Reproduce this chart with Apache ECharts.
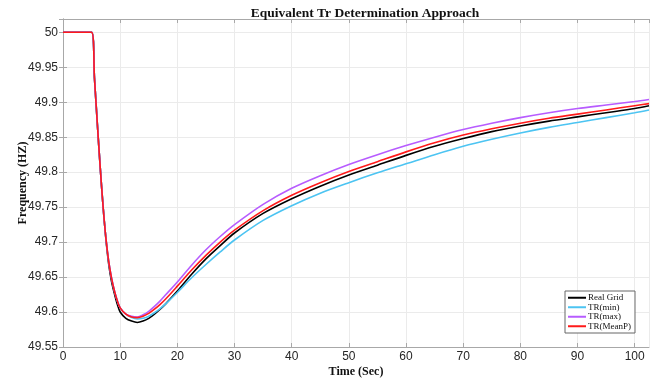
<!DOCTYPE html>
<html>

<head>
    <meta http-equiv="Content-Type" content="text/html; charset=utf-8" />
    <title>Equivalent Tr Determination Approach</title>
    <style type="text/css">
        * {
            margin: 0;
            padding: 0;
        }

        html,
        body {
            width: 100%;
            height: 100%;
            background: #fff;
        }
    </style>
</head>

<body>
    <div id="main" style="width: 657px;height:380px;"></div>
    <script type="text/javascript" src="https://cdn.jsdelivr.net/npm/echarts@6/dist/echarts.min.js"></script>
    <script type="text/javascript">
        // time (sec)
        const times = [0, 5, 5.5, 6, 6.5, 7, 7.5, 8, 8.5, 9, 9.5, 10, 11, 12, 13, 14, 15, 16, 17, 18,
            20, 22.5, 25, 27.5, 30, 35, 40, 45, 50, 55, 60, 65, 70, 75, 80, 85, 90, 95, 100, 102.5];

        // frequency (Hz)
        const realGrid = [50, 50, 49.935, 49.870, 49.808, 49.752, 49.705, 49.668, 49.643, 49.626, 49.611, 49.600, 49.591, 49.587, 49.585, 49.587, 49.591, 49.597, 49.604, 49.612,
            49.630, 49.654, 49.676, 49.695, 49.713, 49.741, 49.762, 49.780, 49.796, 49.810, 49.824, 49.837, 49.848, 49.858, 49.866, 49.873, 49.879, 49.885, 49.891, 49.895];
        const trMin = [50, 50, 49.935, 49.870, 49.808, 49.752, 49.706, 49.672, 49.648, 49.630, 49.616, 49.606, 49.597, 49.592, 49.590, 49.591, 49.594, 49.599, 49.605, 49.612,
            49.628, 49.649, 49.668, 49.686, 49.703, 49.731, 49.752, 49.770, 49.785, 49.799, 49.812, 49.825, 49.837, 49.847, 49.856, 49.864, 49.871, 49.878, 49.885, 49.889];
        const trMax = [50, 50, 49.935, 49.870, 49.808, 49.752, 49.706, 49.672, 49.648, 49.630, 49.616, 49.606, 49.597, 49.594, 49.593, 49.596, 49.601, 49.608, 49.616, 49.625,
            49.643, 49.667, 49.689, 49.708, 49.725, 49.754, 49.777, 49.795, 49.811, 49.825, 49.838, 49.850, 49.861, 49.870, 49.878, 49.885, 49.891, 49.896, 49.901, 49.904];
        const trMeanP = [50, 50, 49.935, 49.870, 49.808, 49.752, 49.706, 49.672, 49.648, 49.630, 49.616, 49.606, 49.597, 49.593, 49.592, 49.594, 49.598, 49.604, 49.611, 49.619,
            49.637, 49.660, 49.681, 49.700, 49.717, 49.745, 49.767, 49.785, 49.801, 49.815, 49.829, 49.842, 49.853, 49.862, 49.870, 49.877, 49.883, 49.889, 49.895, 49.898];

        const seriesNames = ['Real Grid', 'TR(min)', 'TR(max)', 'TR(MeanP)'];
        const seriesValues = [realGrid, trMin, trMax, trMeanP];
        const seriesColors = ['#000000', '#4cc4f2', '#b75cff', '#ff1a1a'];

        const X_MIN = 0, X_MAX = 102.5;
        const Y_MIN = 49.55, Y_MAX = 50.019;

        const axisGray = '#a8a8a8';
        const labelColor = '#262626';

        const chart = echarts.init(document.getElementById('main'), null, { renderer: 'canvas' });

        const boxAxis = {
            type: 'value',
            axisLine: { show: true, lineStyle: { color: axisGray, width: 1 } },
            axisTick: { show: true, inside: true, length: 4, lineStyle: { color: axisGray } },
            axisLabel: { show: false },
            splitLine: { show: false }
        };

        chart.setOption({
            animation: false,
            backgroundColor: '#fff',
            title: {
                text: 'Equivalent Tr Determination Approach',
                left: 360,
                textAlign: 'center',
                top: 2,
                textStyle: {
                    fontFamily: 'Liberation Serif',
                    fontWeight: 'bold',
                    fontSize: 13.5,
                    color: '#111'
                }
            },
            grid: { left: 63, right: 8, top: 19, bottom: 33, outerBoundsMode: 'none' },
            legend: {
                data: seriesNames,
                orient: 'vertical',
                left: 565,
                top: 291,
                icon: 'rect',
                itemWidth: 18,
                itemHeight: 2,
                itemGap: 0,
                padding: [2, 4, 2, 3],
                backgroundColor: '#fff',
                borderColor: '#666',
                borderWidth: 1,
                borderRadius: 0,
                textStyle: {
                    fontFamily: 'Liberation Serif',
                    fontSize: 9,
                    lineHeight: 9.5,
                    color: '#111',
                    padding: [0, 0, 0, -3]
                }
            },
            xAxis: [{
                type: 'value',
                min: X_MIN,
                max: X_MAX,
                interval: 10,
                name: 'Time (Sec)',
                nameLocation: 'middle',
                nameMoveOverlap: false,
                nameGap: 19,
                nameTextStyle: {
                    fontFamily: 'Liberation Serif',
                    fontWeight: 'bold',
                    fontSize: 12,
                    color: '#111'
                },
                axisLine: { show: true, lineStyle: { color: axisGray } },
                axisTick: { show: true, inside: true, length: 4, lineStyle: { color: axisGray } },
                axisLabel: {
                    color: labelColor,
                    fontFamily: 'Liberation Sans',
                    fontSize: 12,
                    margin: 4,
                    showMaxLabel: false,
                    formatter: v => (Math.abs(v % 10) < 1e-6 ? String(v) : '')
                },
                splitLine: { show: true, lineStyle: { color: '#ebebeb', width: 1 } }
            }, Object.assign({}, boxAxis, {
                position: 'top', min: X_MIN, max: X_MAX, interval: 10
            })],
            yAxis: [{
                type: 'value',
                min: Y_MIN,
                max: Y_MAX,
                interval: 0.05,
                name: 'Frequency (HZ)',
                nameLocation: 'middle',
                nameMoveOverlap: false,
                nameGap: 34,
                nameTextStyle: {
                    fontFamily: 'Liberation Serif',
                    fontWeight: 'bold',
                    fontSize: 12,
                    color: '#111'
                },
                axisLine: { show: true, lineStyle: { color: axisGray } },
                axisTick: { show: true, inside: true, length: 4, lineStyle: { color: axisGray } },
                axisLabel: {
                    color: labelColor,
                    fontFamily: 'Liberation Sans',
                    fontSize: 12,
                    margin: 5,
                    showMaxLabel: false,
                    formatter: v => {
                        const r = Math.round(v * 100) / 100;
                        return Math.abs(Math.round(r * 20) - r * 20) < 1e-6 && v <= 50 ? String(r) : '';
                    }
                },
                splitLine: { show: true, lineStyle: { color: '#ebebeb', width: 1 } }
            }, Object.assign({}, boxAxis, {
                position: 'right', min: Y_MIN, max: Y_MAX, interval: 0.05
            })],
            series: seriesNames.map((name, i) => ({
                name: name,
                type: 'line',
                xAxisIndex: 0,
                yAxisIndex: 0,
                symbol: 'none',
                smooth: 0.3,
                lineStyle: { color: seriesColors[i], width: 1.6 },
                itemStyle: { color: seriesColors[i] },
                data: times.map((t, k) => [t, seriesValues[i][k]])
            }))
        });
    </script>
</body>

</html>
